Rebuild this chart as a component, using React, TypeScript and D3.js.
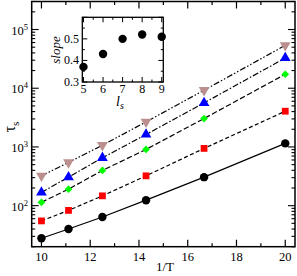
import React, { useEffect, useRef } from "react";
import * as d3 from "d3";

// 1/T values shared by all series
const invT = [10, 11.11, 12.5, 14.29, 16.67, 20];

const tauBlack = [27.8, 40, 64, 124, 306, 1150];
const tauRed = [55, 83, 147, 322, 944, 4060];
const tauGreen = [114, 191, 398, 907, 3050, 17300];
const tauBlue = [168, 306, 653, 1630, 5630, 32700];
const tauBrown = [322, 545, 1070, 2670, 9250, 53800];

// inset: slope vs l_s
const insetLs = [5, 6, 7, 8, 9];
const insetSlope = [0.37, 0.43, 0.5, 0.52, 0.51];

const xTicks = [10, 12, 14, 16, 18, 20];
const yDecades = [2, 3, 4, 5];
const insetXTicks = [5, 6, 7, 8, 9];
const insetYTicks = [0.3, 0.4, 0.5];

const App = () => {
  const svgRef = useRef<SVGSVGElement>(null);

  useEffect(() => {
    const width = 297;
    const height = 276;
    const m = { left: 31.7, right: 295, top: 1.5, bottom: 246.7 };
    const font = "'Liberation Serif', 'Times New Roman', serif";

    const svg = d3.select(svgRef.current);
    svg.selectAll("*").remove();
    svg.attr("width", width).attr("height", height);

    const x = d3.scaleLinear().domain([9.6, 20.4]).range([m.left, m.right]);
    const y = d3.scaleLog().domain([20, 3e5]).range([m.bottom, m.top]);

    const g = svg.append("g");

    // ticks on main frame (inward)
    const minorX = d3.range(10, 21, 1);
    minorX.forEach((v) => {
      const len = v % 2 === 0 ? 7 : 3.5;
      g.append("line").attr("x1", x(v)).attr("x2", x(v)).attr("y1", m.bottom).attr("y2", m.bottom - len)
        .attr("stroke", "#000").attr("stroke-width", 1.2);
      g.append("line").attr("x1", x(v)).attr("x2", x(v)).attr("y1", m.top).attr("y2", m.top + len)
        .attr("stroke", "#000").attr("stroke-width", 1.2);
    });
    const yt = y.ticks().filter((v) => v >= 20 && v <= 3e5);
    yt.forEach((v) => {
      const major = Math.abs(Math.log10(v) - Math.round(Math.log10(v))) < 1e-6;
      const len = major ? 7 : 3.5;
      g.append("line").attr("x1", m.left).attr("x2", m.left + len).attr("y1", y(v)).attr("y2", y(v))
        .attr("stroke", "#000").attr("stroke-width", 1.1);
      g.append("line").attr("x1", m.right).attr("x2", m.right - len).attr("y1", y(v)).attr("y2", y(v))
        .attr("stroke", "#000").attr("stroke-width", 1.1);
    });

    g.append("rect")
      .attr("x", m.left).attr("y", m.top)
      .attr("width", m.right - m.left).attr("height", m.bottom - m.top)
      .attr("fill", "none").attr("stroke", "#000").attr("stroke-width", 1.5);

    // tick labels
    xTicks.forEach((v) => {
      g.append("text").attr("x", x(v)).attr("y", 261).attr("text-anchor", "middle")
        .attr("font-family", font).attr("font-size", 12.5).text(v);
    });
    yDecades.forEach((p) => {
      const t = g.append("text").attr("x", 28).attr("y", y(Math.pow(10, p)) + 5)
        .attr("text-anchor", "end").attr("font-family", font).attr("font-size", 12.5);
      t.append("tspan").text("10");
      t.append("tspan").attr("dy", -5).attr("font-size", 8.5).text(p);
    });

    // axis titles
    g.append("text").attr("x", 165).attr("y", 271).attr("text-anchor", "middle")
      .attr("font-family", font).attr("font-size", 13).text("1/T");
    const yl = g.append("text").attr("transform", "translate(15,127) rotate(-90)")
      .attr("text-anchor", "middle").attr("font-family", font).attr("font-size", 16);
    yl.append("tspan").text("τ");
    yl.append("tspan").attr("dy", 4).attr("font-size", 11).text("s");

    // series
    const series = [
      { data: tauBlack, color: "#000000", dash: null, shape: "circle" },
      { data: tauRed, color: "#ff0000", dash: "4,2.5", shape: "square" },
      { data: tauGreen, color: "#00ff00", dash: "5.5,2.5", shape: "diamond" },
      { data: tauBlue, color: "#0000ff", dash: "6,2,1.5,2", shape: "up" },
      { data: tauBrown, color: "#bc8f8f", dash: "6,2,1.5,2,1.5,2", shape: "down" },
    ];
    const line = d3.line<number>().x((d, i) => x(invT[i])).y((d) => y(d));

    series.forEach((s) => {
      g.append("path").datum(s.data).attr("d", line).attr("fill", "none")
        .attr("stroke", "#000").attr("stroke-width", 1.2)
        .attr("stroke-dasharray", s.dash);
    });

    const sym = (shape: string) => {
      if (shape === "circle") return d3.symbol(d3.symbolCircle, 56)();
      if (shape === "square") return d3.symbol(d3.symbolSquare, 46)();
      if (shape === "diamond") return d3.symbol(d3.symbolSquare, 30)();
      return d3.symbol(d3.symbolTriangle, 50)();
    };
    const rot = (shape: string) =>
      shape === "down" ? " rotate(180)" : shape === "diamond" ? " rotate(45)" : "";
    series.forEach((s) => {
      g.selectAll(null).data(s.data).enter().append("path")
        .attr("d", sym(s.shape))
        .attr("transform", (d, i) => `translate(${x(invT[i])},${y(d)})` + rot(s.shape))
        .attr("fill", s.color);
    });

    // inset
    const ix = d3.scaleLinear().domain([4.94, 9.08]).range([82.3, 163.3]);
    const iy = d3.scaleLinear().domain([0.3, 0.6]).range([82, 17.3]);
    const ig = svg.append("g");
    ig.append("rect").attr("x", 82.3).attr("y", 17.3).attr("width", 81).attr("height", 64.7)
      .attr("fill", "#fff");
    d3.range(5, 9.01, 0.5).forEach((v) => {
      const len = Number.isInteger(v) ? 5 : 2.5;
      ig.append("line").attr("x1", ix(v)).attr("x2", ix(v)).attr("y1", 82).attr("y2", 82 - len)
        .attr("stroke", "#000");
      ig.append("line").attr("x1", ix(v)).attr("x2", ix(v)).attr("y1", 17.3).attr("y2", 17.3 + len)
        .attr("stroke", "#000");
    });
    d3.range(0.3, 0.601, 0.05).forEach((v) => {
      const len = Math.abs(v * 10 - Math.round(v * 10)) < 1e-6 ? 5 : 2.5;
      ig.append("line").attr("x1", 82.3).attr("x2", 82.3 + len).attr("y1", iy(v)).attr("y2", iy(v))
        .attr("stroke", "#000");
      ig.append("line").attr("x1", 163.3).attr("x2", 163.3 - len).attr("y1", iy(v)).attr("y2", iy(v))
        .attr("stroke", "#000");
    });
    ig.append("rect").attr("x", 82.3).attr("y", 17.3).attr("width", 81).attr("height", 64.7)
      .attr("fill", "none").attr("stroke", "#000").attr("stroke-width", 1.3);
    insetXTicks.forEach((v) => {
      ig.append("text").attr("x", ix(v)).attr("y", 93).attr("text-anchor", "middle")
        .attr("font-family", font).attr("font-size", 12).text(v);
    });
    insetYTicks.forEach((v) => {
      ig.append("text").attr("x", 79).attr("y", iy(v) + 4).attr("text-anchor", "end")
        .attr("font-family", font).attr("font-size", 12).text(v.toFixed(1));
    });
    ig.append("text").attr("transform", "translate(60,50) rotate(-90)").attr("text-anchor", "middle")
      .attr("font-family", font).attr("font-style", "italic").attr("font-size", 13).text("slope");
    const il = ig.append("text").attr("x", 120).attr("y", 106).attr("text-anchor", "middle")
      .attr("font-family", font).attr("font-style", "italic").attr("font-size", 14);
    il.append("tspan").text("l");
    il.append("tspan").attr("dy", 3).attr("font-size", 10).text("s");
    ig.selectAll(null).data(insetSlope).enter().append("circle")
      .attr("cx", (d, i) => ix(insetLs[i])).attr("cy", (d) => iy(d)).attr("r", 4.2)
      .attr("fill", "#000");
  }, []);

  return <svg ref={svgRef} style={{ position: "absolute", left: 0, top: 0 }} />;
};

export default App;
